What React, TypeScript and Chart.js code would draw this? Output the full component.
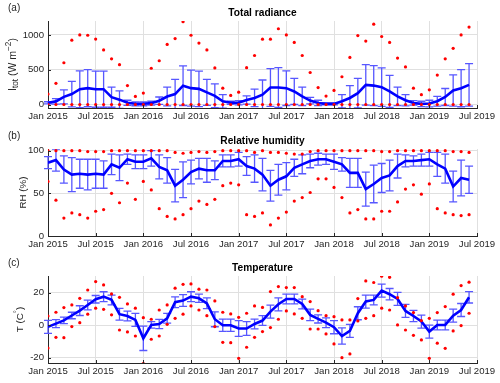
import React, { useEffect, useRef } from "react";
import { Chart, registerables } from "chart.js";

Chart.register(...registerables);

// ---------- data ----------
const xTickPositions = [0, 6, 12, 18, 24, 30, 36, 42, 48, 54];
const xTickLabels = ["Jan 2015", "Jul 2015", "Jan 2016", "Jul 2016", "Jan 2017", "Jul 2017", "Jan 2018", "Jul 2018", "Jan 2019", "Jul 2019"];

// monthly values, Jan 2015 .. Jun 2019
const radMean = [25, 45, 110, 150, 220, 235, 220, 220, 105, 70, 25, 10, 10, 20, 55, 115, 150, 270, 235, 225, 175, 125, 45, 25, 25, 65, 95, 141, 244, 244, 235, 188, 117, 56, 23, 9, 9, 47, 94, 164, 282, 272, 249, 188, 117, 61, 23, 9, 14, 47, 108, 202, 235, 282];
const radStd = [15, 40, 100, 183, 264, 267, 259, 259, 144, 127, 36, 28, 28, 27, 53, 134, 212, 284, 258, 254, 187, 171, 96, 22, 31, 60, 125, 211, 272, 286, 249, 188, 132, 47, 38, 15, 15, 94, 178, 212, 291, 287, 277, 230, 132, 80, 33, 38, 47, 70, 122, 225, 267, 305];
const radMax = [150, 305, 600, 925, 1000, 995, 940, 785, 657, 573, 272, 117, 164, 521, 629, 864, 948, 1190, 995, 883, 784, 526, 235, 131, 178, 530, 704, 939, 939, 1089, 1000, 892, 704, 460, 244, 122, 202, 399, 676, 991, 911, 1155, 977, 892, 667, 540, 235, 141, 211, 423, 657, 808, 1000, 1113];
const radMin = [0, 0, 0, 0, 0, 0, 0, 0, 0, 0, 0, 0, 0, 0, 0, 0, 0, 0, 0, 0, 0, 0, 0, 0, 0, 0, 0, 0, 0, 0, 0, 0, 0, 0, 0, 0, 0, 0, 0, 0, 0, 0, 0, 0, 0, 0, 0, 0, 0, 0, 0, 0, 0, 0];

const rhMean = [86, 89, 78, 72, 73, 72, 73, 72, 84, 80, 90, 87, 87, 91, 81, 77, 59, 66, 75, 79, 77, 77, 88, 88, 90, 82, 79, 72, 59, 66, 70, 80, 84, 88, 90, 90, 87, 84, 74, 74, 55, 61, 68, 71, 82, 88, 88, 89, 90, 84, 79, 58, 68, 66];
const rhStd = [7, 13, 16, 20, 17, 18, 17, 16, 12, 15, 6, 8, 8, 9, 14, 15, 19, 21, 14, 12, 14, 11, 7, 7, 8, 11, 16, 19, 18, 18, 16, 10, 11, 8, 7, 6, 9, 8, 17, 17, 20, 22, 17, 18, 14, 7, 6, 7, 8, 14, 17, 18, 21, 16];
const rhMax = [100, 100, 100, 100, 100, 99, 99, 99, 100, 100, 100, 100, 100, 100, 100, 100, 98, 97, 98, 99, 98, 99, 100, 100, 100, 100, 98, 100, 98, 98, 97, 96, 96, 99, 100, 100, 100, 100, 100, 100, 100, 100, 99, 99, 100, 100, 100, 100, 100, 100, 100, 99, 99, 98];
const rhMin = [64, 42, 21, 27, 25, 21, 29, 31, 50, 39, 62, 43, 64, 54, 32, 23, 20, 25, 32, 41, 37, 43, 59, 62, 60, 25, 23, 27, 13, 21, 28, 41, 45, 51, 67, 67, 57, 45, 27, 31, 20, 20, 29, 29, 40, 55, 60, 49, 61, 32, 27, 25, 24, 25];

const tMean = [-1, 1, 3, 6, 9, 12.5, 16, 17.6, 15.6, 6.8, 5.7, 3.3, -8, 0.2, 0.8, 4.3, 14.2, 15.2, 17.6, 16.6, 13.5, 3.7, 0, 0, -2, -2, 0.8, 2.9, 8.4, 12.9, 16.2, 16.2, 13.1, 6.4, 3.9, 1.6, -1.2, -6.6, -3.5, 7.4, 14.6, 15.6, 21.3, 19.1, 16.2, 8.8, 5.7, 2.3, -3.9, 0.2, 0.2, 5.9, 9.4, 17.2];
const tStd = [4, 2.5, 2, 2, 3, 3, 2.3, 3, 3, 3.6, 3, 4, 7.5, 2, 2.8, 3, 3.3, 3.6, 3, 2.5, 3.3, 4.6, 3.8, 3.8, 4.8, 4.2, 3, 3, 4, 4, 3, 3, 3, 3.5, 2.5, 3, 4, 5, 4, 4, 4, 3, 4, 3.5, 4, 4, 3.5, 4, 4, 3, 3, 4, 4, 3.5];
const tMax = [5.7, 8, 10.9, 12.5, 16.6, 21.7, 26.9, 24.8, 19.3, 17.2, 13.1, 10.5, 4.7, 3.7, 9.4, 12.5, 22.8, 25.2, 25.4, 22.2, 21.7, 15, 8, 7, 4.9, 7.4, 11.9, 11, 20.7, 23.8, 23.2, 23.2, 17.6, 14.6, 9, 5.9, 5.3, 3.3, 3.3, 16.4, 27.3, 26.3, 30.2, 29.5, 17, 11.9, 7.8, 2.9, 4.3, 7.8, 11.5, 19.1, 24.4, 26.5];
const tMin = [-14, -7.4, -7.6, -0.8, 1.6, 6.8, 10.5, 9.8, 6.4, -2.9, -4.1, -6.6, -23.5, -8.6, -6.6, 0.6, 4.3, 6.8, 11.9, 9.4, 5.9, -0.8, -10.5, -10.7, -20.3, -13.5, -7.4, -3.9, -1.4, 3.7, 8.8, 7, 4.3, -2.3, -2.3, -5.3, -11.5, -19.9, -17.6, 2.7, 4.3, 5.9, 10.5, 9.4, 0.2, -2.9, -6.2, -9, -20.3, -11, -14.2, -3.5, -0.2, 7.4];

const radTicks = [0, 500, 1000];
const rhTicks = [0, 50, 100];
const tTicks = [-20, 0, 20];

// ---------- styling ----------
const FONT = "'Liberation Sans', Arial, Helvetica, sans-serif";
const TEXT = "#262626";
const GRID = "#e0e0e0";
const AXIS = "#262626";
const BAR = "#5757ff";
const LINE = "#0000ff";
const DOT = "#ff0000";

type Seg = { t: string; k?: "sub" | "sup" };

interface Panel {
  tag: string;
  title: string;
  mean: number[];
  std: number[];
  hi: number[];
  lo: number[];
  yTicks: number[];
  yMin: number;
  yMax: number;
  yLabel: Seg[];
  yLabelSize: number;
  yLabelX: number;
  top: number;
  height: number;
  padTop: number;
  xAxisH: number;
}

const panels: Panel[] = [
  {
    tag: "(a)",
    title: "Total radiance",
    mean: radMean,
    std: radStd,
    hi: radMax,
    lo: radMin,
    yTicks: radTicks,
    yMin: -50,
    yMax: 1200,
    yLabel: [{ t: "I" }, { t: "tot", k: "sub" }, { t: " (W m" }, { t: "−2", k: "sup" }, { t: ")" }],
    yLabelSize: 10.5,
    yLabelX: 13,
    top: 0,
    height: 127,
    padTop: 21,
    xAxisH: 19,
  },
  {
    tag: "(b)",
    title: "Relative humidity",
    mean: rhMean,
    std: rhStd,
    hi: rhMax,
    lo: rhMin,
    yTicks: rhTicks,
    yMin: 0,
    yMax: 102,
    yLabel: [{ t: "RH (%)" }],
    yLabelSize: 9.8,
    yLabelX: 23,
    top: 127,
    height: 127,
    padTop: 22,
    xAxisH: 18,
  },
  {
    tag: "(c)",
    title: "Temperature",
    mean: tMean,
    std: tStd,
    hi: tMax,
    lo: tMin,
    yTicks: tTicks,
    yMin: -23.2,
    yMax: 30.3,
    yLabel: [{ t: "T (C" }, { t: "°", k: "sup" }, { t: ")" }],
    yLabelSize: 9.8,
    yLabelX: 20.5,
    top: 254,
    height: 129,
    padTop: 22,
    xAxisH: 20,
  },
];

function makeChart(canvas: HTMLCanvasElement, p: Panel): Chart {
  const pts = (arr: number[]) => arr.map((v, i) => ({ x: i, y: v }));

  const errorBars = {
    id: "errorBars",
    beforeDatasetsDraw(chart: any) {
      const { ctx, chartArea: a, scales } = chart;
      const xs = scales.x;
      const ys = scales.y;
      ctx.save();
      ctx.beginPath();
      ctx.rect(a.left - 6, a.top, a.right - a.left + 12, a.bottom - a.top);
      ctx.clip();
      ctx.strokeStyle = BAR;
      ctx.lineWidth = 1.3;
      p.mean.forEach((m, i) => {
        const px = xs.getPixelForValue(i);
        const yTop = ys.getPixelForValue(m + p.std[i]);
        const yBot = ys.getPixelForValue(m - p.std[i]);
        ctx.beginPath();
        ctx.moveTo(px, yBot);
        ctx.lineTo(px, yTop);
        ctx.moveTo(px - 4, yTop);
        ctx.lineTo(px + 4, yTop);
        ctx.moveTo(px - 4, yBot);
        ctx.lineTo(px + 4, yBot);
        ctx.stroke();
      });
      ctx.restore();
    },
  };

  const decor = {
    id: "decor",
    afterDraw(chart: any) {
      const { ctx, chartArea: a, scales } = chart;
      ctx.save();
      // inward tick marks
      ctx.strokeStyle = AXIS;
      ctx.lineWidth = 1;
      ctx.beginPath();
      xTickPositions.forEach((v) => {
        const px = Math.round(scales.x.getPixelForValue(v)) + 0.5;
        ctx.moveTo(px, a.bottom);
        ctx.lineTo(px, a.bottom - 3);
      });
      p.yTicks.forEach((v) => {
        const py = Math.round(scales.y.getPixelForValue(v)) + 0.5;
        ctx.moveTo(a.left, py);
        ctx.lineTo(a.left + 3, py);
      });
      ctx.stroke();

      // title
      ctx.fillStyle = "#000000";
      ctx.font = `bold 10.2px ${FONT}`;
      ctx.textAlign = "center";
      ctx.textBaseline = "middle";
      ctx.fillText(p.title, (a.left + a.right) / 2, a.top - 8);

      // panel tag
      ctx.fillStyle = TEXT;
      ctx.font = `10px ${FONT}`;
      ctx.textAlign = "left";
      ctx.fillText(p.tag, 8, a.top - 13);

      // y-axis label (rotated, with sub/superscripts)
      const main = p.yLabelSize;
      const small = main * 0.78;
      const fontFor = (s: Seg) => `${s.k ? small : main}px ${FONT}`;
      let total = 0;
      p.yLabel.forEach((s) => {
        ctx.font = fontFor(s);
        total += ctx.measureText(s.t).width;
      });
      ctx.translate(p.yLabelX, (a.top + a.bottom) / 2);
      ctx.rotate(-Math.PI / 2);
      ctx.textAlign = "left";
      ctx.textBaseline = "middle";
      let cx = -total / 2;
      p.yLabel.forEach((s) => {
        ctx.font = fontFor(s);
        const dy = s.k === "sub" ? 3 : s.k === "sup" ? -4 : 0;
        ctx.fillText(s.t, cx, dy);
        cx += ctx.measureText(s.t).width;
      });
      ctx.restore();
    },
  };

  return new Chart(canvas, {
    type: "line",
    data: {
      datasets: [
        {
          data: pts(p.hi),
          showLine: false,
          pointRadius: 1.6,
          pointBackgroundColor: DOT,
          pointBorderColor: DOT,
          pointBorderWidth: 0,
          order: 0,
        },
        {
          data: pts(p.lo),
          showLine: false,
          pointRadius: 1.6,
          pointBackgroundColor: DOT,
          pointBorderColor: DOT,
          pointBorderWidth: 0,
          order: 0,
        },
        {
          data: pts(p.mean),
          borderColor: LINE,
          borderWidth: 2.6,
          pointRadius: 0,
          tension: 0,
          fill: false,
          order: 1,
        },
      ],
    },
    options: {
      responsive: false,
      animation: false,
      devicePixelRatio: 1,
      events: [],
      layout: { padding: { top: p.padTop, right: 23, left: 0, bottom: 0 } },
      plugins: {
        legend: { display: false },
        tooltip: { enabled: false },
        title: { display: false },
      },
      scales: {
        x: {
          type: "linear",
          min: 0,
          max: 54,
          afterBuildTicks: (s: any) => {
            s.ticks = xTickPositions.map((v) => ({ value: v }));
          },
          afterFit: (s: any) => {
            s.height = p.xAxisH;
          },
          ticks: {
            autoSkip: false,
            maxRotation: 0,
            padding: 3,
            color: TEXT,
            font: { family: FONT, size: 9.6 },
            callback: (_v: any, idx: number) => xTickLabels[idx],
          },
          grid: { color: GRID, drawTicks: false, tickLength: 0 },
          border: { color: AXIS, width: 1 },
        },
        y: {
          type: "linear",
          min: p.yMin,
          max: p.yMax,
          afterBuildTicks: (s: any) => {
            s.ticks = p.yTicks.map((v) => ({ value: v }));
          },
          afterFit: (s: any) => {
            s.width = 48;
          },
          ticks: {
            padding: 4,
            color: TEXT,
            font: { family: FONT, size: 9.6 },
            callback: (v: any) => String(v),
          },
          grid: { color: GRID, drawTicks: false, tickLength: 0 },
          border: { color: AXIS, width: 1 },
        },
      },
    } as any,
    plugins: [errorBars, decor],
  });
}

export default function App() {
  const refs = [useRef<HTMLCanvasElement>(null), useRef<HTMLCanvasElement>(null), useRef<HTMLCanvasElement>(null)];

  useEffect(() => {
    const charts: Chart[] = [];
    panels.forEach((p, i) => {
      const c = refs[i].current;
      if (c) charts.push(makeChart(c, p));
    });
    return () => charts.forEach((c) => c.destroy());
  }, []);

  return (
    <div style={{ position: "fixed", left: 0, top: 0, width: 500, height: 383, background: "#ffffff" }}>
      {panels.map((p, i) => (
        <canvas
          key={p.tag}
          ref={refs[i]}
          width={500}
          height={p.height}
          style={{ position: "absolute", left: 0, top: p.top, width: 500, height: p.height }}
        />
      ))}
    </div>
  );
}
